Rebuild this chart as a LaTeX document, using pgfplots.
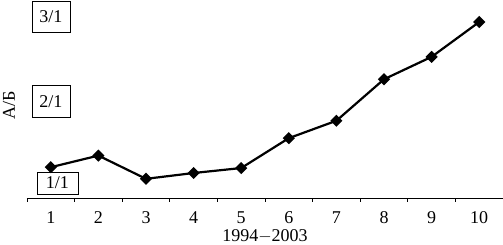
\documentclass[border=0pt]{standalone}
\usepackage{fontspec}
\setmainfont{Liberation Serif}
\usepackage{pgfplots}
\pgfplotsset{compat=1.18}
\begin{document}
\begin{tikzpicture}
\begin{axis}[
  name=ax,
  scale only axis,
  width=476pt, height=198pt,
  xmin=0.5, xmax=10.5,
  ymin=0.819, ymax=3.205,
  axis x line=bottom,
  axis y line=none,
  axis line style={line width=0.8pt,-},
  xtick={1,...,10},
  major tick length=0pt,
  minor xtick={0.5,1.5,...,10.5},
  minor tick length=4pt,
  tick align=outside,
  tick style={line width=0.8pt,black},
  /pgf/number format/assume math mode=true,
  ticklabel style={font=\fontsize{18}{19}\selectfont},
  xticklabel style={yshift=-10pt},
  xlabel={1994$-$2003},
  xlabel style={font=\fontsize{18}{19}\selectfont, yshift=1pt},
  clip=false,
]
\addplot[black, line width=2.2pt, mark=square*, mark size=3.2pt, mark options={solid, rotate=45}]
 coordinates {(1,1.19) (2,1.33) (3,1.05) (4,1.12) (5,1.18) (6,1.54) (7,1.75) (8,2.25) (9,2.52) (10,2.94)};
\node[draw, line width=0.8pt, minimum width=38pt, minimum height=31pt, inner sep=0pt, fill=white,
  font=\fontsize{18}{19}\selectfont] at (axis cs:1.004,3.006) {3/1};
\node[draw, line width=0.8pt, minimum width=38pt, minimum height=32pt, inner sep=0pt, fill=white,
  font=\fontsize{18}{19}\selectfont] at (axis cs:1.004,1.98) {2/1};
\node[draw, line width=0.8pt, minimum width=41pt, minimum height=22pt, inner sep=0pt, fill=white,
  font=\fontsize{18}{19}\selectfont] at (axis cs:1.14,1.0) {1/1};
\node[rotate=90, font=\fontsize{18}{19}\selectfont] at ([xshift=-18pt]rel axis cs:0,0.47) {А/Б};
\end{axis}
\pgfresetboundingbox
\path[use as bounding box] ([xshift=-27pt,yshift=-47pt]ax.south west) rectangle (ax.north east);
\end{tikzpicture}
\end{document}
